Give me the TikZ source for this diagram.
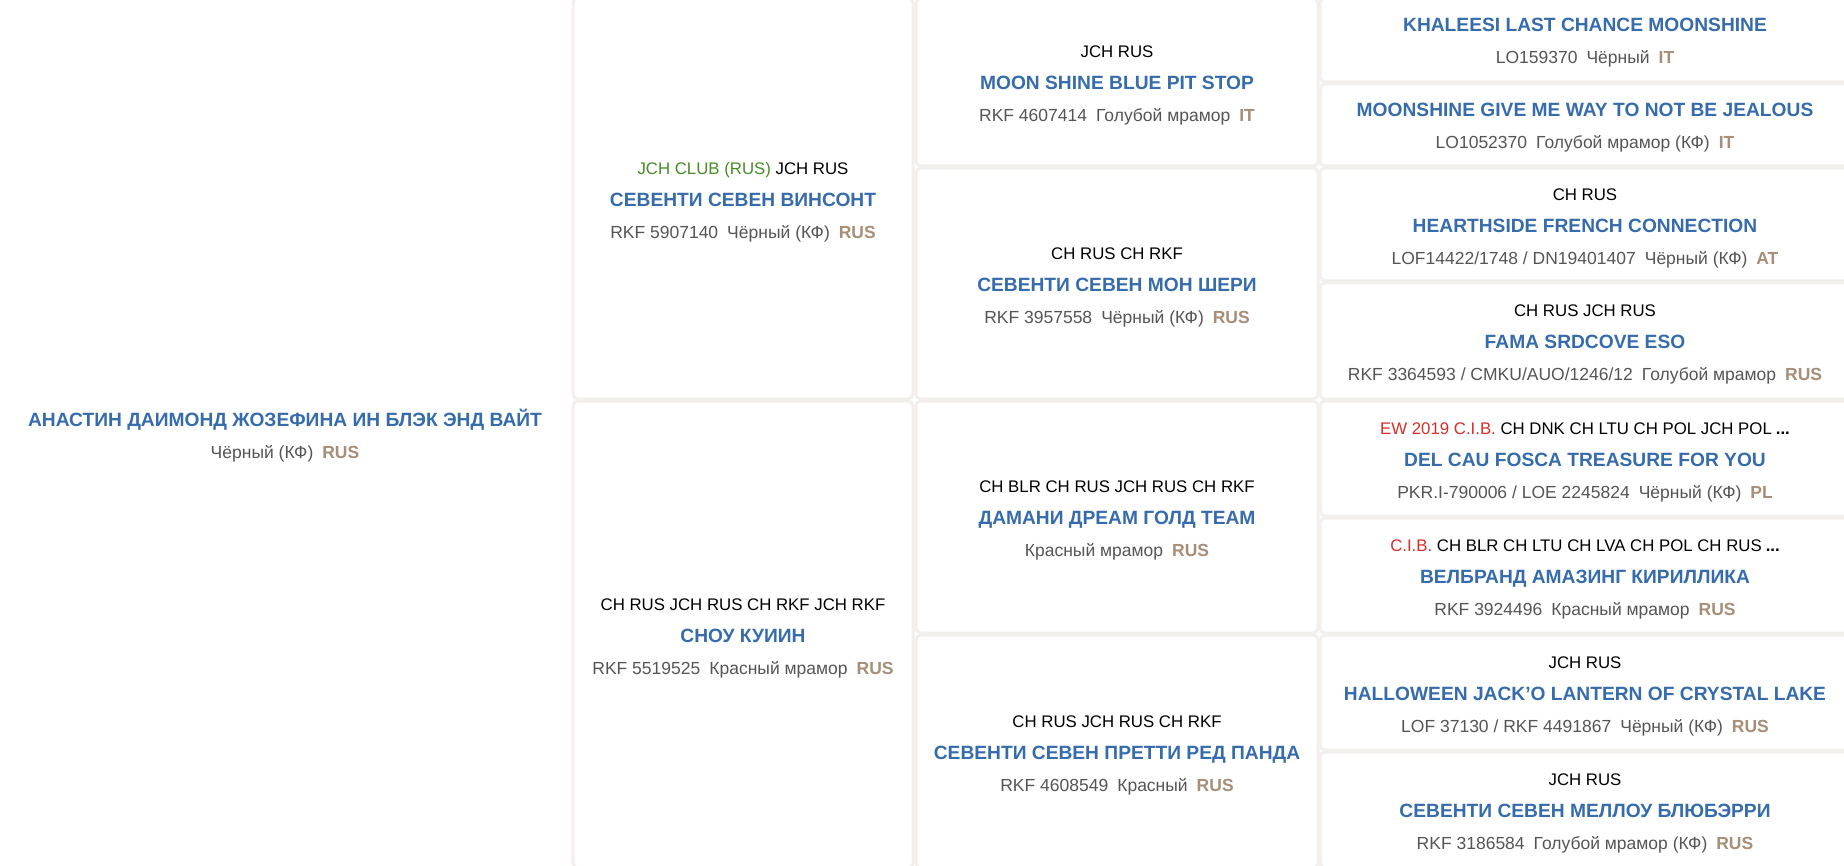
\documentclass[tikz,border=0pt]{standalone}
\usepackage{fontspec}
\setmainfont{Liberation Sans}
\usetikzlibrary{positioning}
\definecolor{namec}{RGB}{54,108,172}
\definecolor{infoc}{RGB}{85,85,85}
\definecolor{ctryc}{RGB}{166,142,120}
\definecolor{clubc}{RGB}{72,140,40}
\definecolor{titlec}{RGB}{214,46,40}
\definecolor{borderc}{RGB}{243,239,237}
\newcommand{\tstrut}{\rule{0pt}{19pt}}
\newcommand{\ttl}[1]{\tstrut#1}
\newcommand{\dname}[1]{\tstrut{\bfseries\fontsize{19.2}{32}\selectfont\color{namec}#1}}
\newcommand{\reg}[1]{{\fontsize{17.5}{32}\selectfont\color{infoc}#1}\hspace{9pt}}
\newcommand{\colr}[1]{{\fontsize{17.5}{32}\selectfont\color{infoc}#1}}
\newcommand{\ctry}[1]{\hspace{9pt}{\fontsize{17.5}{32}\selectfont\bfseries\color{ctryc}#1}}
\newcommand{\more}{\hspace{4pt}\textbf{...}}
\tikzset{x=1pt, y=1pt, node distance=2pt, font=\fontsize{16.8}{32}\selectfont}
\tikzstyle{cell} = [draw=borderc, line width=3pt, rounded corners=5pt, fill=white, outer sep=0pt, inner sep=0pt, align=center, anchor=north west]
\tikzstyle{col2} = [cell, minimum width=340]
\tikzstyle{col3} = [cell, minimum width=402]
\tikzstyle{col4} = [cell, minimum width=530]
\tikzstyle{dog} = [inner sep=0pt, align=center]
\begin{document}
\begin{tikzpicture}
    \useasboundingbox[fill=white] (0,0) rectangle (1844,-866);
    \clip (0,0) rectangle (1844,-866);
    % the dog
    \node [dog] (dog) at (285,-434.5) {\dname{АНАСТИН ДАИМОНД ЖОЗЕФИНА ИН БЛЭК ЭНД ВАЙТ}\\ \colr{Чёрный (КФ)}\ctry{RUS}};
    % parents
    \node [col2, minimum height=401] (s) at (573,2) {\ttl{{\color{clubc}JCH CLUB (RUS)} JCH RUS}\\ \dname{СЕВЕНТИ СЕВЕН ВИНСОНТ}\\ \reg{RKF 5907140}\colr{Чёрный (КФ)}\ctry{RUS}};
    \node [col2, minimum height=467, below=of s] (d) {\ttl{CH RUS JCH RUS CH RKF JCH RKF}\\ \dname{СНОУ КУИИН}\\ \reg{RKF 5519525}\colr{Красный мрамор}\ctry{RUS}};
    % grandparents
    \node [col3, minimum height=168] (s_s) at (916,2) {\ttl{JCH RUS}\\ \dname{MOON SHINE BLUE PIT STOP}\\ \reg{RKF 4607414}\colr{Голубой мрамор}\ctry{IT}};
    \node [col3, minimum height=231, below=of s_s] (s_d) {\ttl{CH RUS CH RKF}\\ \dname{СЕВЕНТИ СЕВЕН МОН ШЕРИ}\\ \reg{RKF 3957558}\colr{Чёрный (КФ)}\ctry{RUS}};
    \node [col3, minimum height=232, below=of s_d] (d_s) {\ttl{CH BLR CH RUS JCH RUS CH RKF}\\ \dname{ДАМАНИ ДРЕАМ ГОЛД TEAM}\\ \colr{Красный мрамор}\ctry{RUS}};
    \node [col3, minimum height=233, below=of d_s] (d_d) {\ttl{CH RUS JCH RUS CH RKF}\\ \dname{СЕВЕНТИ СЕВЕН ПРЕТТИ РЕД ПАНДА}\\ \reg{RKF 4608549}\colr{Красный}\ctry{RUS}};
    % great-grandparents
    \node [col4, minimum height=84] (s_s_s) at (1320,2) {\dname{KHALEESI LAST CHANCE MOONSHINE}\\ \reg{LO159370}\colr{Чёрный}\ctry{IT}};
    \node [col4, minimum height=82, below=of s_s_s] (s_s_d) {\dname{MOONSHINE GIVE ME WAY TO NOT BE JEALOUS}\\ \reg{LO1052370}\colr{Голубой мрамор (КФ)}\ctry{IT}};
    \node [col4, minimum height=113, below=of s_s_d] (s_d_s) {\ttl{CH RUS}\\ \dname{HEARTHSIDE FRENCH CONNECTION}\\ \reg{LOF14422/1748 / DN19401407}\colr{Чёрный (КФ)}\ctry{AT}};
    \node [col4, minimum height=116, below=of s_d_s] (s_d_d) {\ttl{CH RUS JCH RUS}\\ \dname{FAMA SRDCOVE ESO}\\ \reg{RKF 3364593 / CMKU/AUO/1246/12}\colr{Голубой мрамор}\ctry{RUS}};
    \node [col4, minimum height=115, below=of s_d_d] (d_s_s) {\ttl{{\color{titlec}EW 2019 C.I.B.} CH DNK CH LTU CH POL JCH POL\more}\\ \dname{DEL CAU FOSCA TREASURE FOR YOU}\\ \reg{PKR.I-790006 / LOE 2245824}\colr{Чёрный (КФ)}\ctry{PL}};
    \node [col4, minimum height=115, below=of d_s_s] (d_s_d) {\ttl{{\color{titlec}C.I.B.} CH BLR CH LTU CH LVA CH POL CH RUS\more}\\ \dname{ВЕЛБРАНД АМАЗИНГ КИРИЛЛИКА}\\ \reg{RKF 3924496}\colr{Красный мрамор}\ctry{RUS}};
    \node [col4, minimum height=115, below=of d_s_d] (d_d_s) {\ttl{JCH RUS}\\ \dname{HALLOWEEN JACK'O LANTERN OF CRYSTAL LAKE}\\ \reg{LOF 37130 / RKF 4491867}\colr{Чёрный (КФ)}\ctry{RUS}};
    \node [col4, minimum height=116, below=of d_d_s] (d_d_d) {\ttl{JCH RUS}\\ \dname{СЕВЕНТИ СЕВЕН МЕЛЛОУ БЛЮБЭРРИ}\\ \reg{RKF 3186584}\colr{Голубой мрамор (КФ)}\ctry{RUS}};
\end{tikzpicture}
\end{document}
